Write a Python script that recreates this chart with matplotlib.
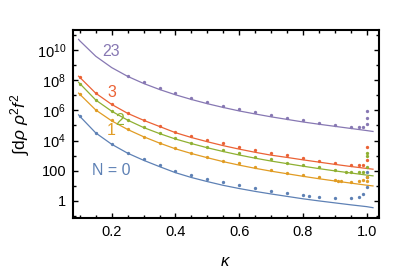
import numpy as np
import matplotlib
matplotlib.use("Agg")
import matplotlib.pyplot as plt
import matplotlib.ticker as mticker

plt.rcParams.update({
    "font.family": ["Liberation Sans", "DejaVu Sans"],
    "mathtext.fontset": "custom",
    "mathtext.rm": "Liberation Sans",
    "mathtext.it": "Liberation Sans:italic",
})

COLORS = {
    0: "#5E81B5",
    1: "#E19C24",
    2: "#8FB032",
    3: "#EB6235",
    23: "#8778B3",
}

# ── data (values are log10 of the integral) ──
k_pts = [0.1, 0.15, 0.2, 0.25, 0.3, 0.35, 0.4, 0.45, 0.5, 0.55, 0.6,
         0.65, 0.7, 0.75, 0.8, 0.85, 0.9, 0.95]

pts_log = {
    0:  [5.63, 4.52, 3.77, 3.20, 2.76, 2.36, 2.01, 1.72, 1.46, 1.24, 1.04,
         0.84, 0.68, 0.55, 0.40, 0.29, 0.22, 0.22],
    1:  [7.07, 6.03, 5.35, 4.74, 4.26, 3.84, 3.49, 3.20, 2.93, 2.67, 2.49,
         2.23, 2.05, 1.87, 1.72, 1.57, 1.39, 1.28],
    2:  [7.77, 6.69, 5.96, 5.37, 4.88, 4.48, 4.15, 3.86, 3.60, 3.38, 3.16,
         2.93, 2.76, 2.54, 2.38, 2.23, 2.05, 1.94],
    3:  [8.18, 7.14, 6.40, 5.81, 5.36, 4.97, 4.59, 4.33, 4.06, 3.82, 3.60,
         3.38, 3.20, 3.05, 2.83, 2.67, 2.49, 2.38],
    23: [None, None, None, 8.28, 7.88, 7.46, 7.13, 6.80, 6.56, 6.29, 6.11,
         5.89, 5.72, 5.52, 5.33, 5.19, 5.03, 4.90],
}

# extra points close to kappa = 1
extra_k = {
    0:  [0.82, 0.975, 0.99, 1.0, 1.0, 1.0],
    1:  [0.91, 0.92, 0.975, 0.99, 1.0, 1.0],
    2:  [0.935, 0.975, 0.99, 1.0, 1.0, 1.0],
    3:  [0.975, 0.99, 1.0, 1.0],
    23: [0.975, 0.99, 1.0, 1.0, 1.0],
}
extra_log = {
    0:  [0.35, 0.29, 0.46, 0.95, 1.57, 1.94],
    1:  [1.34, 1.34, 1.34, 1.39, 1.32, 1.57],
    2:  [1.94, 1.94, 1.94, 2.27, 2.98, 3.20],
    3:  [2.38, 2.38, 2.72, 3.60],
    23: [4.87, 4.87, 5.12, 5.48, 5.96],
}

# fitted curves
k_line = [0.096, 0.1, 0.15, 0.2, 0.25, 0.3, 0.35, 0.4, 0.45, 0.5, 0.55, 0.6,
          0.65, 0.7, 0.75, 0.8, 0.85, 0.9, 0.95, 1.0, 1.02]
line_log = {
    0:  [5.70, 5.60, 4.50, 3.75, 3.16, 2.69, 2.27, 1.87, 1.55, 1.28, 1.03,
         0.82, 0.63, 0.46, 0.30, 0.14, 0.00, -0.13, -0.26, -0.38, -0.45],
    1:  [7.14, 7.06, 6.02, 5.30, 4.73, 4.25, 3.83, 3.45, 3.14, 2.86, 2.60,
         2.37, 2.16, 1.97, 1.80, 1.63, 1.47, 1.32, 1.18, 1.04, 0.99],
    2:  [7.85, 7.77, 6.68, 5.94, 5.35, 4.86, 4.46, 4.10, 3.80, 3.52, 3.27,
         3.04, 2.83, 2.64, 2.47, 2.30, 2.14, 1.99, 1.85, 1.71, 1.66],
    3:  [8.26, 8.18, 7.13, 6.39, 5.80, 5.34, 4.93, 4.52, 4.20, 3.92, 3.66,
         3.43, 3.22, 3.03, 2.88, 2.72, 2.57, 2.42, 2.28, 2.15, 2.10],
    23: [10.70, 10.60, 9.58, 8.83, 8.25, 7.78, 7.38, 7.03, 6.72, 6.44, 6.19,
         5.96, 5.76, 5.57, 5.40, 5.23, 5.08, 4.94, 4.80, 4.66, 4.60],
}

# curve labels: (text, kappa, log10 value)
LABELS = {
    23: ("23", 0.197, 9.87),
    3:  ("3", 0.200, 7.15),
    2:  ("2", 0.226, 5.30),
    1:  ("1", 0.197, 4.64),
    0:  ("N = 0", 0.197, 2.00),
}

fig = plt.figure(figsize=(4.15, 2.78), dpi=100)
ax = fig.add_axes([0.176, 0.216, 0.737, 0.676])

for n in [0, 1, 2, 3, 23]:
    c = COLORS[n]
    ax.plot(k_line, 10.0 ** np.array(line_log[n]), color=c, lw=0.9, zorder=2)
    kk = [k for k, v in zip(k_pts, pts_log[n]) if v is not None]
    vv = [v for v in pts_log[n] if v is not None]
    kk += extra_k[n]
    vv += extra_log[n]
    ax.plot(kk, 10.0 ** np.array(vv), "o", color=c, ms=2.4, mew=0, zorder=3)
    txt, kx, ly = LABELS[n]
    ax.text(kx, 10.0 ** ly, txt, color=c, fontsize=11.5,
            ha="center", va="center")

ax.set_yscale("log")
ax.set_xlim(0.0786, 1.0385)
ax.set_ylim(10 ** -1.13, 10 ** 11.32)

ax.xaxis.set_major_locator(mticker.MultipleLocator(0.2))
ax.xaxis.set_minor_locator(mticker.MultipleLocator(0.05))
ax.xaxis.set_major_formatter(mticker.FormatStrFormatter("%.1f"))

ax.yaxis.set_major_locator(mticker.FixedLocator([10.0 ** e for e in range(0, 12, 2)]))
ax.yaxis.set_minor_locator(mticker.FixedLocator([10.0 ** e for e in range(-1, 12, 2)]))


def ylab(v, _):
    e = int(round(np.log10(v)))
    if e == 0:
        return "1"
    if e == 2:
        return "100"
    return f"$10^{{{e}}}$"


ax.yaxis.set_major_formatter(mticker.FuncFormatter(ylab))
ax.yaxis.set_minor_formatter(mticker.NullFormatter())

ax.tick_params(which="both", direction="in", top=True, right=True,
               labelsize=10.5, width=1.0, color="black", pad=5)
ax.tick_params(which="major", length=3.5)
ax.tick_params(which="minor", length=2.2)
for s in ax.spines.values():
    s.set_linewidth(1.5)

ax.set_xlabel(r"$\kappa$", fontsize=12, labelpad=11)
ax.set_ylabel(r"$\int\mathrm{d}\rho\ \rho^2 f^2$", fontsize=12.5, labelpad=3)

fig.savefig("out.png", dpi=100)
